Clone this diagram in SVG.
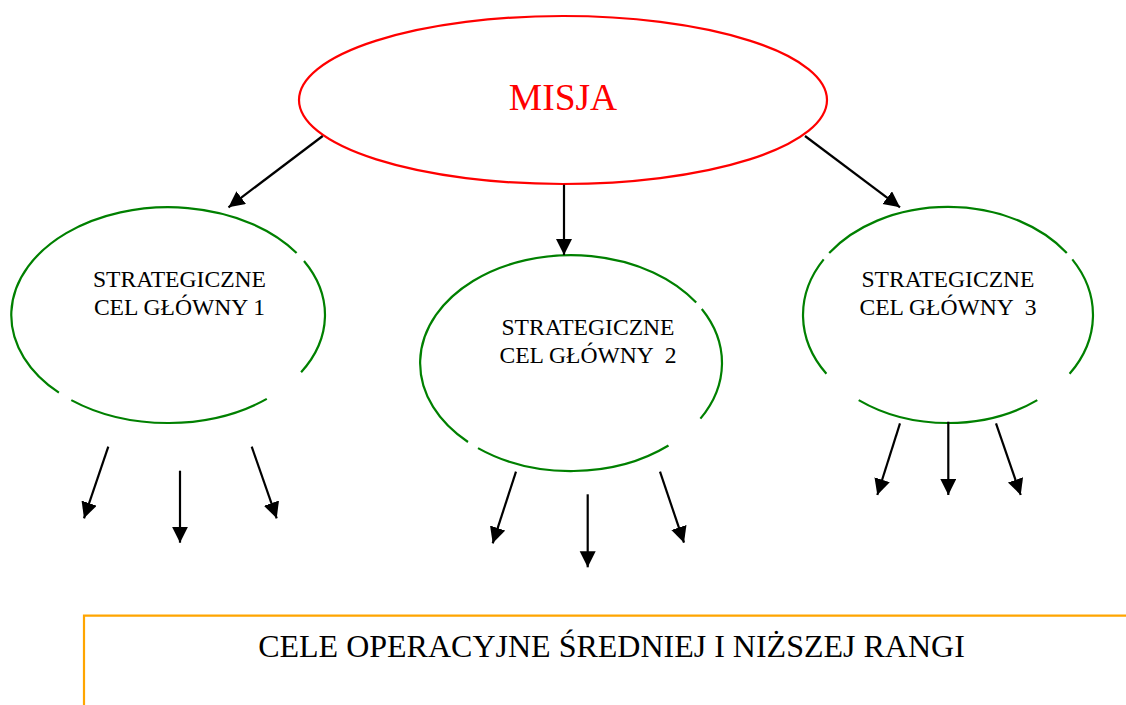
<svg xmlns="http://www.w3.org/2000/svg" width="1126" height="705" viewBox="0 0 1126 705">
<style>
.bg{fill:#ffffff}
.goal{fill:none;stroke:#008000;stroke-width:2.2}
.mission{fill:none;stroke:#ff0000;stroke-width:2.2}
.t{fill:#000000;text-anchor:middle}
.goaltxt{font-size:23.6px}
.misja{font-size:37.5px;fill:#ff0000}
.bottomtxt{font-size:32px}
.conn line{stroke:#000000;stroke-width:2.2;marker-end:url(#arrow)}
.box{fill:none;stroke:#ffa500;stroke-width:2.2}
</style>
<defs>
<marker id="arrow" markerUnits="userSpaceOnUse" markerWidth="18" markerHeight="18" refX="16" refY="8" orient="auto">
<path d="M0,0 L16,8 L0,16 Z" fill="#000000"/>
</marker>
</defs>
<rect class="bg" x="0" y="0" width="1126" height="705"/>

<g id="misja">
<ellipse class="mission" cx="563" cy="100" rx="264" ry="84"/>
<text class="t misja" font-family="Liberation Serif, Times New Roman, serif" x="563" y="109.5">MISJA</text>
</g>

<g id="cel1">
<path class="goal" d="M304.0,261.0 A157,108 0 0 1 301.1,372.2 M266.8,398.9 A157,108 0 0 1 71.3,400.1 M58.9,392.7 A157,108 0 1 1 296.6,253.0"/>
<text class="t goaltxt" font-family="Liberation Serif, Times New Roman, serif" x="179.5" y="287.3">STRATEGICZNE</text>
<text class="t goaltxt" font-family="Liberation Serif, Times New Roman, serif" x="179.5" y="315">CEL GŁÓWNY 1</text>
</g>

<g id="cel2">
<path class="goal" d="M701.8,309.0 A151,108 0 0 1 700.4,418.6 M668.5,445.5 A151,108 0 0 1 478.0,448.1 M468.0,442.0 A151,108 0 1 1 696.2,302.6"/>
<text class="t goaltxt" font-family="Liberation Serif, Times New Roman, serif" x="588" y="335">STRATEGICZNE</text>
<text class="t goaltxt" font-family="Liberation Serif, Times New Roman, serif" x="588" y="362.7" xml:space="preserve">CEL GŁÓWNY  2</text>
</g>

<g id="cel3">
<path class="goal" d="M1072.3,259.4 A145,108 0 0 1 1069.6,373.8 M1037.3,400.1 A145,108 0 0 1 858.7,400.1 M826.4,373.8 A145,108 0 0 1 823.7,259.4 M829.2,253.0 A145,108 0 0 1 1066.8,253.0"/>
<text class="t goaltxt" font-family="Liberation Serif, Times New Roman, serif" x="948" y="287.3">STRATEGICZNE</text>
<text class="t goaltxt" font-family="Liberation Serif, Times New Roman, serif" x="948" y="315" xml:space="preserve">CEL GŁÓWNY  3</text>
</g>

<g id="cele-operacyjne">
<path class="box" d="M84,705 L84,615.7 L1126,615.7"/>
<text class="t bottomtxt" font-family="Liberation Serif, Times New Roman, serif" x="611.5" y="656.7">CELE OPERACYJNE ŚREDNIEJ I NIŻSZEJ RANGI</text>
</g>

<g id="connectors" class="conn">
<line x1="322.7" y1="136" x2="228.5" y2="207.3"/>
<line x1="564" y1="184.7" x2="564" y2="255"/>
<line x1="805" y1="136" x2="900" y2="207.3"/>

<line x1="108.3" y1="446.7" x2="84" y2="518.3"/>
<line x1="180" y1="470.7" x2="180" y2="542.7"/>
<line x1="251.7" y1="446.7" x2="276.7" y2="518.3"/>

<line x1="516" y1="471.7" x2="492.7" y2="543.3"/>
<line x1="587.7" y1="494.3" x2="587.7" y2="567.3"/>
<line x1="660" y1="471.7" x2="684" y2="542.7"/>

<line x1="900" y1="423.3" x2="877.3" y2="495"/>
<line x1="948.3" y1="421.7" x2="948.3" y2="495"/>
<line x1="996" y1="423.3" x2="1020.7" y2="495"/>
</g>
</svg>
